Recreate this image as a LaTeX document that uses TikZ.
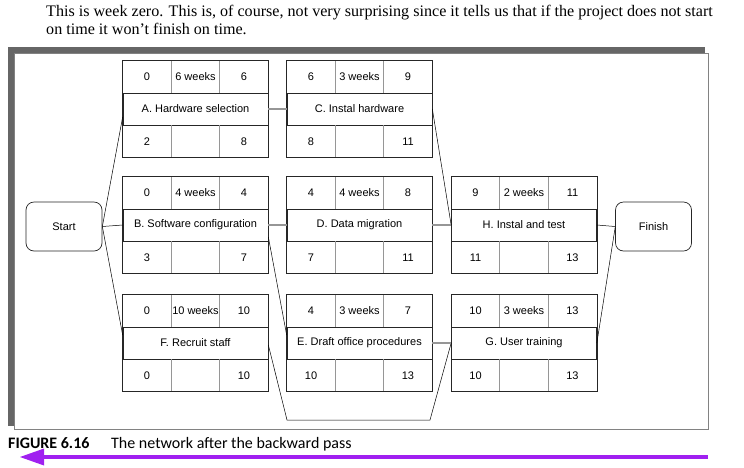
\documentclass[tikz,border=0pt]{standalone}
\usepackage{fontspec}
\setmainfont{Liberation Serif}
\newfontfamily\boxfont{Liberation Sans}
\newfontfamily\capfont{Carlito}
\definecolor{bandgray}{RGB}{102,102,102}
\definecolor{thingray}{RGB}{130,130,130}
\definecolor{divgray}{RGB}{150,150,150}
\definecolor{arrowpurple}{RGB}{160,32,240}
\newcommand\actbox[9]{%
 \node[mid] (#1) at (#2,#3) {#7};
 \node[cell, anchor=south west] (#1-es) at (#1.north west) {#4};
 \node[cell, anchor=south] (#1-d) at (#1.north) {#5};
 \node[cell, anchor=south east] (#1-ef) at (#1.north east) {#6};
 \node[cell, anchor=north west] (#1-ls) at (#1.south west) {#8};
 \node[cell, anchor=north] (#1-fl) at (#1.south) {};
 \node[cell, anchor=north east] (#1-lf) at (#1.south east) {#9};
 \draw[div] (#1-es.north east) -- (#1-es.south east);
 \draw[div] (#1-ef.north west) -- (#1-ef.south west);
 \draw[div] (#1-ls.north east) -- (#1-ls.south east);
 \draw[div] (#1-lf.north west) -- (#1-lf.south west);
 \draw[outer] (#1-es.north west) rectangle (#1-lf.south east);
}
\begin{document}
\begin{tikzpicture}[x=1pt,y=-1pt,
  cell/.style={minimum width=48.33pt, minimum height=31.7pt, inner sep=0pt,
    font=\boxfont\fontsize{11}{13}\selectfont},
  mid/.style={minimum width=145pt, minimum height=31.7pt, inner sep=0pt,
    draw=black!85, line width=0.7pt, font=\boxfont\fontsize{11}{13}\selectfont},
  div/.style={draw=divgray, line width=1pt},
  outer/.style={draw=black!85, line width=0.7pt},
  term/.style={draw=black!85, line width=0.7pt, rounded corners=8pt,
    minimum width=76pt, minimum height=49pt, inner sep=0pt,
    font=\boxfont\fontsize{11}{13}\selectfont},
  conn/.style={draw=black, line width=0.5pt},
  gconn/.style={draw=divgray, line width=1.2pt},
  txt/.style={anchor=base west, inner sep=0pt, font=\fontsize{16.1}{18}\selectfont},
  captxt/.style={anchor=base west, inner sep=0pt, font=\capfont\fontsize{16}{18}\selectfont}
]
\useasboundingbox (0,0) rectangle (744,467);

% top text
\node[txt] (t1) at (46,16) {This is week zero. This is, of course, not very surprising since it tells us that if the project does not start};
\node[txt] (t2) at (46,34) {on time it won’t finish on time.};

% frame
\fill[bandgray] (8,47) rectangle (705,426);
\filldraw[fill=white, draw=thingray, line width=0.8pt] (14,53) rectangle (708,429);

% activity boxes
\actbox{A}{195.5}{109}{0}{6 weeks}{6}{A. Hardware selection}{2}{8}
\actbox{C}{359.5}{109}{6}{3 weeks}{9}{C. Instal hardware}{8}{11}
\actbox{B}{195.5}{225}{0}{4 weeks}{4}{B. Software configuration}{3}{7}
\actbox{D}{359.5}{225}{4}{4 weeks}{8}{D. Data migration}{7}{11}
\actbox{H}{524}{225}{9}{2 weeks}{11}{H. Instal and test}{11}{13}
\actbox{F}{195.5}{343}{0}{10 weeks}{10}{F. Recruit staff}{0}{10}
\actbox{E}{359.5}{343}{4}{3 weeks}{7}{E. Draft office procedures}{10}{13}
\actbox{G}{524}{343}{10}{3 weeks}{13}{G. User training}{10}{13}

\node[term] (Start) at (64,226.5) {Start};
\node[term] (Finish) at (653.5,226.5) {Finish};

% connectors
\draw[conn] (Start.east) -- ([yshift=-8pt]A.west);
\draw[conn] (Start.east) -- (B.west);
\draw[conn] (Start.east) -- ([yshift=8pt]F.west);
\draw[gconn] (A.east) -- (C.west);
\draw[conn] (C.east) -- (H.west);
\draw[gconn] (B.east) -- (D.west);
\draw[gconn] (D.east) -- (H.west);
\draw[conn] ([yshift=-12pt]B.east) -- ([yshift=8pt]E.west);
\coordinate (fg1) at (287,420);
\coordinate (fg2) at (430,420);
\draw[conn] ([yshift=-2pt]F.east) -- (fg1) -- (fg2) -- (G.west);
\draw[gconn] (E.east) -- (G.west);
\draw[conn] (H.east) -- (Finish.west);
\draw[conn] (G.east) -- ([yshift=-1pt]Finish.west);

% caption
\node[captxt, font=\capfont\bfseries\fontsize{16}{18}\selectfont] (cap1) at (8,448) {FIGURE 6.16};
\node[captxt] (cap2) at (111,448) {The network after the backward pass};

% purple arrow
\coordinate (atip) at (20,457);
\coordinate (aend) at (708,457);
\draw[arrowpurple, line width=3.3pt] (aend) -- (42,457);
\fill[arrowpurple] (atip) -- (44,448.5) -- (44,465.5) -- cycle;
\end{tikzpicture}
\end{document}
